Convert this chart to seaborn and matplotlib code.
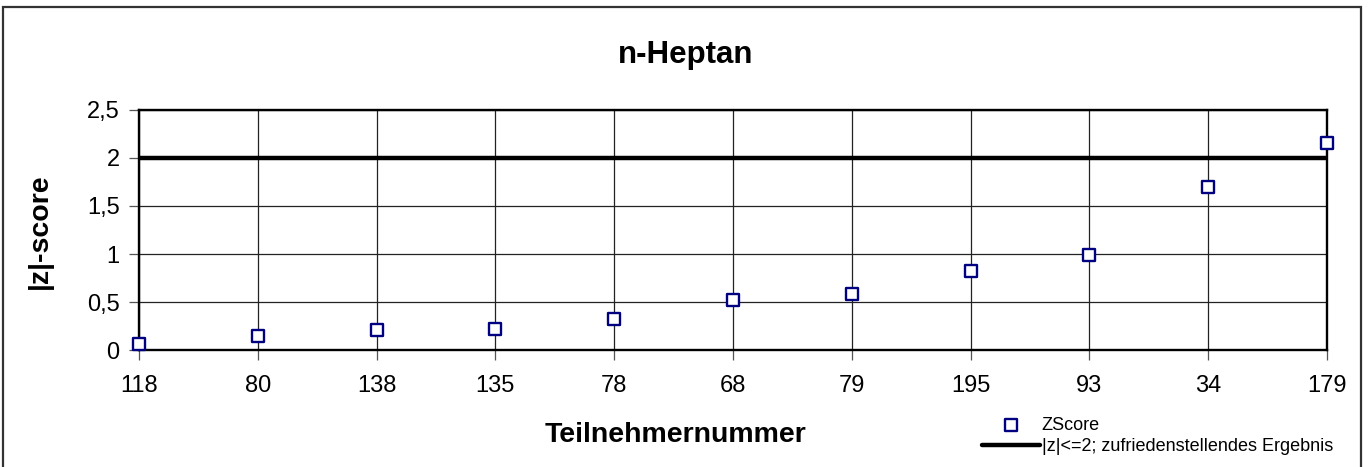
import matplotlib
matplotlib.use("Agg")
import matplotlib.pyplot as plt
import matplotlib.patches as patches
import seaborn as sns
import pandas as pd

# data
teilnehmer = ["118", "80", "138", "135", "78", "68", "79", "195", "93", "34", "179"]
zscore = [0.06, 0.15, 0.21, 0.22, 0.32, 0.52, 0.58, 0.82, 0.99, 1.70, 2.16]
grenze = 2
y_ticks = [0, 0.5, 1, 1.5, 2, 2.5]
y_labels = ["0", "0,5", "1", "1,5", "2", "2,5"]

df = pd.DataFrame({"Teilnehmer": teilnehmer, "ZScore": zscore})

sns.set_style("white")
plt.rcParams["font.family"] = ["Liberation Sans", "DejaVu Sans"]
plt.rcParams["text.color"] = "black"
plt.rcParams["xtick.color"] = "black"
plt.rcParams["ytick.color"] = "black"
plt.rcParams["axes.labelcolor"] = "black"

fig = plt.figure(figsize=(13.72, 4.67), dpi=100)
ax = fig.add_axes([0.1013, 0.2505, 0.8659, 0.514])

ax.axhline(grenze, color="black", lw=3.2, zorder=3,
           label="|z|<=2; zufriedenstellendes Ergebnis")
sns.scatterplot(data=df, x="Teilnehmer", y="ZScore", marker="s", s=85,
                facecolor="white", edgecolor="#000080", linewidth=1.7,
                ax=ax, zorder=4, clip_on=False, label="ZScore")

ax.set_xlim(0, len(teilnehmer) - 1)
ax.set_ylim(0, 2.5)
ax.set_yticks(y_ticks)
ax.set_yticklabels(y_labels)
ax.grid(True, color="#222222", lw=0.9)
ax.set_axisbelow(True)
for sp in ax.spines.values():
    sp.set_visible(True)
    sp.set_color("black")
    sp.set_linewidth(1.7)
ax.tick_params(axis="both", which="both", length=7, width=0.9, color="#555555",
               labelsize=17, labelcolor="black", direction="out",
               bottom=True, left=True)
ax.tick_params(axis="x", pad=11)
ax.tick_params(axis="y", pad=7)

ax.set_xlabel("")
ax.set_ylabel("")
fig.text(0.492, 0.069, "Teilnehmernummer", ha="center", va="center",
         fontsize=20.5, fontweight="bold")
fig.text(0.029, 0.505, "|z|-score", ha="center", va="center", rotation=90,
         fontsize=20.5, fontweight="bold")
fig.text(0.5, 0.882, "n-Heptan", ha="center", va="center",
         fontsize=22.5, fontweight="bold")

if ax.legend_:
    ax.legend_.remove()
h, l = ax.get_legend_handles_labels()
order = [l.index("ZScore"), l.index("|z|<=2; zufriedenstellendes Ergebnis")]
fig.legend([h[i] for i in order], [l[i] for i in order],
           loc="upper left", bbox_to_anchor=(0.7157, 0.108),
           frameon=False, fontsize=13, handlelength=3.2, handletextpad=0.1,
           borderpad=0, borderaxespad=0, labelspacing=0.25)

fig.patches.append(patches.Rectangle((0.0022, -0.01), 0.9898, 0.995,
                                     transform=fig.transFigure, fill=False,
                                     edgecolor="#333333", lw=1.6))

fig.savefig("out.png", dpi=100)
